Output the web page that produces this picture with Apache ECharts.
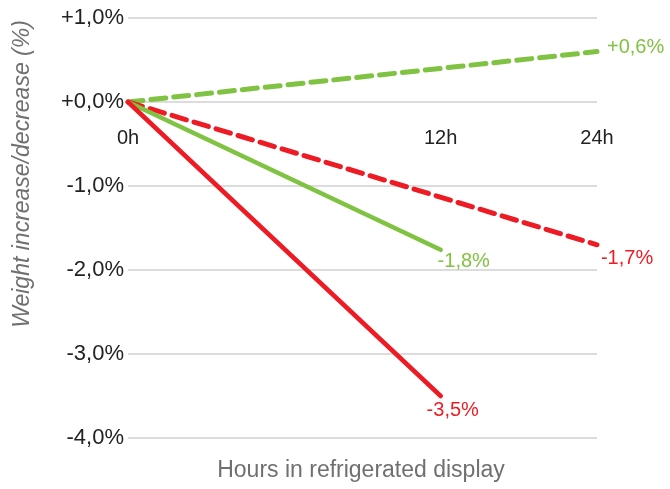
<!DOCTYPE html>
<html>
<head>
<meta charset="utf-8">
<script src="https://cdn.jsdelivr.net/npm/echarts@6/dist/echarts.min.js"></script>
<style>html,body{margin:0;padding:0;background:#fff;}#c{width:670px;height:489px;}</style>
</head>
<body>
<div id="c"></div>
<script>
// Categories (the blank slot keeps 0h→12h twice as wide as 12h→24h, as in the reference)
var categories = ['0h', '', '12h', '24h'];
var greenSolid = [0, null, -1.76, null];
var redSolid = [0, null, -3.5, null];
var greenDashed = [0, null, null, 0.6];
var redDashed = [0, null, null, -1.7];
var yTicks = [-4, -3, -2, -1, 0, 1];
var xName = 'Hours in refrigerated display';
var yName = 'Weight increase/decrease (%)';

var GREEN = '#80c342';
var RED = '#ed1c24';
var FONT = 'Liberation Sans, Arial, sans-serif';

var GRID_TOP = 18, GRID_BOTTOM = 51, H = 489;
var plotH = H - GRID_TOP - GRID_BOTTOM;
var yMin = yTicks[0], yMax = yTicks[yTicks.length - 1];
// distance from bottom of the plot up to the zero line
var zeroOffset = plotH * (0 - yMin) / (yMax - yMin);

function fmt(v, digits) {
  var s = Math.abs(v).toFixed(digits).replace('.', ',');
  return (v >= 0 ? '+' : '-') + s + '%';
}

function buildData(values, color, pos) {
  var last = -1;
  values.forEach(function (v, i) { if (v !== null) last = i; });
  return values.map(function (v, i) {
    if (v === null) return null;
    if (i !== last) return { value: v, label: { show: false } };
    return {
      value: v,
      label: {
        show: true,
        position: pos,
        align: 'left',
        verticalAlign: 'top',
        color: color,
        fontSize: 20,
        fontFamily: FONT,
        formatter: function (p) { return fmt(p.value, 1); }
      }
    };
  });
}

function line(values, color, dashed, pos) {
  return {
    type: 'line',
    data: buildData(values, color, pos),
    connectNulls: true,
    symbol: 'circle',
    symbolSize: 0.1,
    showSymbol: true,
    silent: true,
    animation: false,
    lineStyle: {
      color: color,
      width: dashed ? 5 : 4.5,
      type: dashed ? [15, 8] : 'solid',
      cap: 'round'
    },
    itemStyle: { color: color }
  };
}

var chart = echarts.init(document.getElementById('c'));
chart.setOption({
  animation: false,
  grid: { left: 128, right: 73, top: GRID_TOP, bottom: GRID_BOTTOM, containLabel: false },
  xAxis: {
    type: 'category',
    data: categories,
    boundaryGap: false,
    position: 'bottom',
    offset: -zeroOffset,
    axisLine: { show: false, onZero: false },
    axisTick: { show: false },
    axisLabel: { color: '#222', fontSize: 20, fontFamily: FONT, margin: 26 },
    splitLine: { show: false }
  },
  yAxis: {
    type: 'value',
    min: yMin,
    max: yMax,
    interval: 1,
    axisLine: { show: false },
    axisTick: { show: false },
    axisLabel: {
      color: '#222', fontSize: 22, fontFamily: FONT, margin: 4,
      formatter: function (v) { return fmt(v, 1); }
    },
    splitLine: { lineStyle: { color: '#d0d0d0', width: 1.5 } }
  },
  graphic: [
    {
      type: 'text', x: 361, y: 459,
      style: { text: xName, fill: '#707070', fontSize: 23, fontFamily: FONT, align: 'center' }
    },
    {
      type: 'text', x: 11, y: 174, rotation: Math.PI / 2,
      style: { text: yName, fill: '#707070', fontSize: 23, fontStyle: 'italic', fontFamily: FONT, align: 'center', verticalAlign: 'top' }
    }
  ],
  series: [
    line(greenDashed, GREEN, true, [10, -14]),
    line(redDashed, RED, true, [4, 4]),
    line(greenSolid, GREEN, false, [-3, 2]),
    line(redSolid, RED, false, [-14, 5])
  ]
});
</script>
</body>
</html>
